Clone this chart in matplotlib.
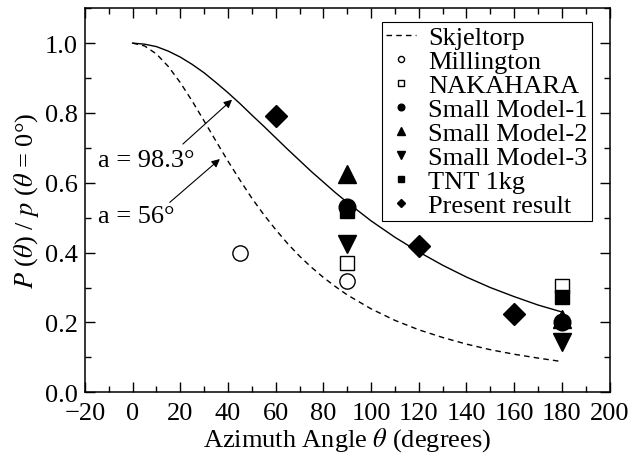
import matplotlib
matplotlib.use("Agg")
import matplotlib.pyplot as plt
from matplotlib.ticker import MultipleLocator, FormatStrFormatter

plt.rcParams['font.family'] = ['Liberation Serif', 'DejaVu Serif']
plt.rcParams['mathtext.fontset'] = 'stix'
plt.rcParams['font.size'] = 19

# curves
theta_curve = [0, 5, 10, 15, 20, 25, 30, 35, 40, 45, 50, 55, 60, 65, 70, 75, 80, 85, 90,
               100, 110, 120, 130, 140, 150, 160, 170, 180]
a98_curve = [1.0, 0.997, 0.990, 0.977, 0.960, 0.939, 0.915, 0.887, 0.858, 0.827, 0.794,
             0.762, 0.729, 0.696, 0.664, 0.632, 0.602, 0.572, 0.544,
             0.491, 0.444, 0.402, 0.364, 0.330, 0.300, 0.274, 0.250, 0.230]
skjeltorp = [1.0, 0.992, 0.969, 0.933, 0.887, 0.834, 0.777, 0.719, 0.662, 0.608, 0.556,
             0.509, 0.466, 0.426, 0.390, 0.358, 0.329, 0.303, 0.279,
             0.239, 0.206, 0.179, 0.157, 0.138, 0.122, 0.109, 0.098, 0.088]

mill_x = [45, 90]
mill_y = [0.40, 0.32]
naka_x = [90, 180]
naka_y = [0.37, 0.305]
sm1_x = [90, 180]
sm1_y = [0.53, 0.20]
sm2_x = [90, 180]
sm2_y = [0.625, 0.21]
sm3_x = [90, 180]
sm3_y = [0.425, 0.145]
tnt_x = [90, 180]
tnt_y = [0.52, 0.273]
pres_x = [60, 120, 160]
pres_y = [0.79, 0.42, 0.225]

fig = plt.figure(figsize=(6.43, 4.60), dpi=100)
ax = fig.add_axes([0.132, 0.145, 0.816, 0.835])

ax.plot(theta_curve, skjeltorp, 'k--', lw=1.0, dashes=(4, 3), label='Skjeltorp')
ax.plot(theta_curve, a98_curve, 'k-', lw=1.0)
ax.plot(mill_x, mill_y, 'o', mfc='white', mec='k', mew=1.0, ms=11, ls='none', label='Millington')
ax.plot(naka_x, naka_y, 's', mfc='white', mec='k', mew=1.0, ms=10, ls='none', label='NAKAHARA')
ax.plot(tnt_x, tnt_y, 's', color='k', ms=10, ls='none', zorder=3)
ax.plot(sm1_x, sm1_y, 'o', color='k', ms=12, ls='none', label='Small Model-1', zorder=4)
ax.plot(sm2_x, sm2_y, '^', color='k', ms=13, ls='none', label='Small Model-2')
ax.plot(sm3_x, sm3_y, 'v', color='k', ms=13, ls='none', label='Small Model-3')
ax.plot([], [], 's', color='k', ms=10, ls='none', label='TNT 1kg')
ax.plot(pres_x, pres_y, 'D', color='k', ms=11, ls='none', label='Present result')

ax.annotate('', xy=(41.7, 0.838), xytext=(21.1, 0.711),
            arrowprops=dict(arrowstyle='-|>', color='k', lw=0.8, mutation_scale=12,
                            shrinkA=0, shrinkB=0))
ax.text(-14.5, 0.665, 'a = 98.3°', va='center', ha='left')
ax.annotate('', xy=(36.6, 0.668), xytext=(15.6, 0.544),
            arrowprops=dict(arrowstyle='-|>', color='k', lw=0.8, mutation_scale=12,
                            shrinkA=0, shrinkB=0))
ax.text(-14.5, 0.505, 'a = 56°', va='center', ha='left')

ax.set_xlim(-20, 200)
ax.set_ylim(0, 1.1)
ax.xaxis.set_major_locator(MultipleLocator(20))
ax.xaxis.set_minor_locator(MultipleLocator(10))
ax.yaxis.set_major_locator(MultipleLocator(0.2))
ax.yaxis.set_minor_locator(MultipleLocator(0.1))
ax.yaxis.set_major_formatter(FormatStrFormatter('%.1f'))
ax.tick_params(which='both', direction='in', top=True, right=True, width=1.0)
ax.tick_params(which='major', length=7)
ax.tick_params(axis='x', which='major', pad=7)
ax.tick_params(axis='y', which='major', pad=5)
ax.tick_params(which='minor', length=4)
for s in ax.spines.values():
    s.set_linewidth(1.1)

ax.set_xlabel(r'Azimuth Angle $\theta$ (degrees)', labelpad=1)
ax.set_ylabel(r'$P$ ($\theta$) / $p$ ($\theta$ = 0°)', labelpad=3)

leg = ax.legend(loc='upper right', bbox_to_anchor=(0.966, 0.964), markerscale=0.4,
                fancybox=False, edgecolor='k', framealpha=1, labelspacing=0.02,
                handlelength=1.15, handletextpad=0.45, borderpad=0.15, borderaxespad=0)
leg.get_frame().set_linewidth(0.8)

fig.savefig('out.png', dpi=100)
